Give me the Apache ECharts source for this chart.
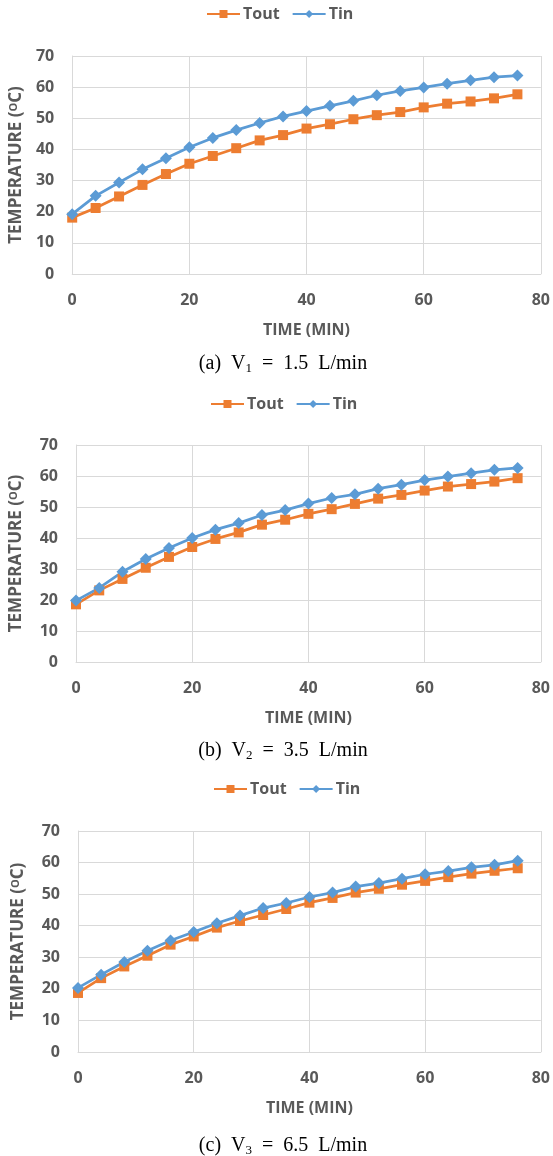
<!DOCTYPE html>
<html>
<head>
<meta charset="utf-8">
<script src="https://cdn.jsdelivr.net/npm/echarts@6/dist/echarts.min.js"></script>
<style>
html,body{margin:0;padding:0;background:#fff;}
#chart{width:553px;height:1156px;}
</style>
</head>
<body>
<div id="chart"></div>
<script>
const time = [0, 4, 8, 12, 16, 20, 24, 28, 32, 36, 40, 44, 48, 52, 56, 60, 64, 68, 72, 76];

const toutA = [18.1, 21.2, 24.9, 28.6, 32.1, 35.4, 37.9, 40.4, 42.9, 44.6, 46.7, 48.1, 49.7, 51.0, 52.0, 53.5, 54.7, 55.4, 56.4, 57.7];
const tinA  = [19.2, 25.1, 29.4, 33.6, 37.2, 40.7, 43.7, 46.2, 48.5, 50.6, 52.3, 54.0, 55.6, 57.4, 58.8, 59.9, 61.1, 62.2, 63.2, 63.7];

const toutB = [18.6, 23.1, 26.8, 30.4, 33.9, 37.1, 39.7, 41.8, 44.3, 45.9, 47.8, 49.3, 51.0, 52.7, 53.9, 55.3, 56.6, 57.4, 58.2, 59.3];
const tinB  = [19.8, 23.9, 29.1, 33.2, 36.8, 40.0, 42.7, 44.8, 47.4, 49.0, 51.1, 52.9, 54.1, 55.9, 57.2, 58.7, 59.8, 60.9, 62.0, 62.6];

const toutC = [18.7, 23.4, 27.1, 30.5, 34.0, 36.6, 39.4, 41.5, 43.4, 45.3, 47.3, 48.8, 50.5, 51.7, 53.0, 54.2, 55.4, 56.5, 57.4, 58.2];
const tinC  = [20.3, 24.5, 28.5, 32.1, 35.3, 38.0, 40.8, 43.2, 45.6, 47.2, 49.1, 50.5, 52.4, 53.5, 54.9, 56.3, 57.3, 58.5, 59.3, 60.6];

const seriesNames = ['Tout', 'Tin'];
const xTitle = 'TIME (MIN)';
const captions = [
  ['(a)', '1', '1.5'],
  ['(b)', '2', '3.5'],
  ['(c)', '3', '6.5']
];

const panels = [
  {tout: toutA, tin: tinA, grid: {left: 71, right: 12, top: 56, height: 218}, legendLeft: 206, legendTop: 6, yGap: 44, capTop: 352},
  {tout: toutB, tin: tinB, grid: {left: 76, right: 12, top: 445, height: 217}, legendLeft: 210, legendTop: 396, yGap: 51, capTop: 739},
  {tout: toutC, tin: tinC, grid: {left: 78, right: 9, top: 831, height: 221}, legendLeft: 213, legendTop: 781, yGap: 51, capTop: 1134}
];

const ORANGE = '#ED7D31';
const BLUE = '#5B9BD5';
const GRAY = '#595959';
const GRID = '#D9D9D9';
const FONT = '"Open Sans", "DejaVu Sans", sans-serif';
const SERIF = '"Liberation Serif", "DejaVu Serif", serif';

function pairs(xs, ys) { return xs.map((x, i) => [x, ys[i]]); }

const option = {
  animation: false,
  backgroundColor: '#fff',
  grid: [], xAxis: [], yAxis: [], series: [], legend: [], title: []
};

panels.forEach((p, i) => {
  option.grid.push(Object.assign({containLabel: false}, p.grid));
  option.xAxis.push({
    type: 'value', gridIndex: i, min: 0, max: 80, interval: 20,
    name: xTitle, nameLocation: 'middle', nameGap: 48,
    nameTextStyle: {fontFamily: FONT, fontSize: 16, fontWeight: 'bold', color: GRAY},
    axisLine: {show: true, lineStyle: {color: GRID, width: 1}},
    axisTick: {show: false},
    axisLabel: {margin: 18, fontFamily: FONT, fontSize: 16, fontWeight: 'bold', color: GRAY},
    splitLine: {show: true, lineStyle: {color: GRID, width: 1}}
  });
  option.yAxis.push({
    type: 'value', gridIndex: i, min: 0, max: 70, interval: 10,
    name: '{b|TEMPERATURE (}{s|O}{b|C)}', nameLocation: 'middle', nameRotate: 90, nameGap: p.yGap,
    nameTextStyle: {
      rich: {
        b: {fontFamily: FONT, fontSize: 17, fontWeight: 'bold', color: GRAY},
        s: {fontFamily: FONT, fontSize: 11, fontWeight: 'bold', color: GRAY, verticalAlign: 'top'}
      }
    },
    axisLine: {show: true, lineStyle: {color: GRID, width: 1}},
    axisTick: {show: false},
    axisLabel: {margin: 18, fontFamily: FONT, fontSize: 16, fontWeight: 'bold', color: GRAY},
    splitLine: {show: true, lineStyle: {color: GRID, width: 1}}
  });
  option.series.push({
    name: seriesNames[0], type: 'line', xAxisIndex: i, yAxisIndex: i,
    data: pairs(time, p.tout), symbol: 'rect', symbolSize: 10,
    lineStyle: {color: ORANGE, width: 2.75}, itemStyle: {color: ORANGE}
  });
  option.series.push({
    name: seriesNames[1], type: 'line', xAxisIndex: i, yAxisIndex: i,
    data: pairs(time, p.tin), symbol: 'diamond', symbolSize: 12,
    lineStyle: {color: BLUE, width: 2.75}, itemStyle: {color: BLUE}
  });
  option.legend.push({
    data: seriesNames, left: p.legendLeft, top: p.legendTop, padding: 0,
    itemWidth: 33, itemHeight: 10, itemGap: 12, selectedMode: false,
    textStyle: {fontFamily: FONT, fontSize: 16, fontWeight: 'bold', color: GRAY, padding: [0, 0, 0, -2]}
  });
  const c = captions[i];
  option.title.push({
    text: '{t|' + c[0] + '  V}{s|' + c[1] + '}{t|  =  ' + c[2] + '  L/min}',
    left: 283, top: p.capTop, textAlign: 'center', padding: 0,
    textStyle: {
      fontWeight: 'normal',
      rich: {
        t: {fontFamily: SERIF, fontSize: 20, fontWeight: 'normal', color: '#000', lineHeight: 24},
        s: {fontFamily: SERIF, fontSize: 13, fontWeight: 'normal', color: '#000', lineHeight: 24, padding: [10, 0, 0, 0]}
      }
    }
  });
});

const chart = echarts.init(document.getElementById('chart'), null, {renderer: 'canvas'});
chart.setOption(option);
</script>
</body>
</html>
